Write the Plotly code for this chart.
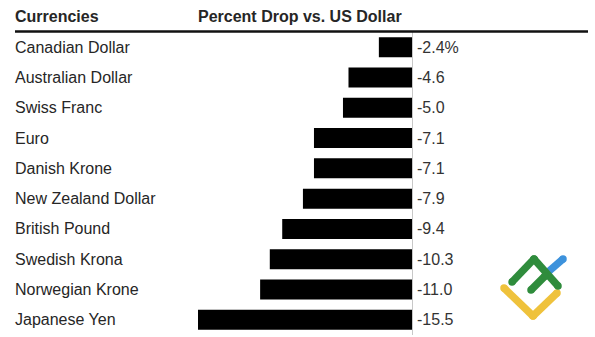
import plotly.graph_objects as go

# Currency depreciation against the US dollar (percent)
currencies = [
    "Canadian Dollar", "Australian Dollar", "Swiss Franc", "Euro", "Danish Krone",
    "New Zealand Dollar", "British Pound", "Swedish Krona", "Norwegian Krone", "Japanese Yen",
]
drops = [-2.4, -4.6, -5.0, -7.1, -7.1, -7.9, -9.4, -10.3, -11.0, -15.5]
value_labels = ["-2.4%", "-4.6", "-5.0", "-7.1", "-7.1", "-7.9", "-9.4", "-10.3", "-11.0", "-15.5"]
headers = ["Currencies", "Percent Drop vs. US Dollar"]

W, H = 595, 337
ML, MR, MT, MB = 15, 0, 32, 2
PW, PH = W - ML - MR, H - MT - MB

# horizontal scale: zero sits at x=412px, -15.5 at x=198px
zero_px, px_per_unit = 412, (412 - 198) / 15.5
x_min = -(zero_px - ML) / px_per_unit
x_max = (W - MR - zero_px) / px_per_unit

FONT = "Liberation Sans, Arial, Helvetica, sans-serif"
TXT = "#262626"
FS = 16

fig = go.Figure()
fig.add_trace(go.Bar(
    x=drops, y=currencies, orientation="h",
    marker=dict(color="#000000", line=dict(width=0)),
    width=0.66, hoverinfo="skip",
))


def px(x, y):
    """Convert page pixels to paper coordinates."""
    return (x - ML) / PW, 1 - (y - MT) / PH


annotations = []
for name in currencies:
    annotations.append(dict(
        x=px(13, 0)[0], xref="paper", y=name, yref="y", text=name, showarrow=False,
        xanchor="left", yanchor="middle", font=dict(family=FONT, size=FS, color=TXT),
    ))
for name, lab in zip(currencies, value_labels):
    annotations.append(dict(
        x=0, xref="x", y=name, yref="y", text=lab, showarrow=False, xshift=3,
        xanchor="left", yanchor="middle", font=dict(family=FONT, size=FS, color="#333333"),
    ))
hx0, hy = px(13, 16)
hx1, _ = px(196, 16)
annotations.append(dict(x=hx0, y=hy, xref="paper", yref="paper", text="<b>%s</b>" % headers[0],
                        showarrow=False, xanchor="left", yanchor="middle",
                        font=dict(family=FONT, size=FS, color=TXT)))
annotations.append(dict(x=hx1, y=hy, xref="paper", yref="paper", text="<b>%s</b>" % headers[1],
                        showarrow=False, xanchor="left", yanchor="middle",
                        font=dict(family=FONT, size=FS, color=TXT)))

shapes = []
lx0, ly = px(15, 31.5)
lx1, _ = px(588, 31.5)
shapes.append(dict(type="line", xref="paper", yref="paper", x0=lx0, x1=lx1, y0=ly, y1=ly,
                   line=dict(color="#111111", width=2.5)))


# small brand mark in the lower right corner
def seg(p, q, color, w=7.5):
    a, b = px(*p)
    c, d = px(*q)
    shapes.append(dict(type="line", xref="paper", yref="paper", x0=a, y0=b, x1=c, y1=d,
                       line=dict(color=color, width=w), layer="above"))
    # rounded ends
    r = w / 2
    for (cx, cy) in (p, q):
        x0, y0 = px(cx - r, cy + r)
        x1, y1 = px(cx + r, cy - r)
        shapes.append(dict(type="circle", xref="paper", yref="paper", x0=x0, y0=y0,
                           x1=x1, y1=y1, fillcolor=color, line=dict(width=0), layer="above"))


yellow, green, blue = "#efc23c", "#2f8c3c", "#3d92dc"
seg((504, 288), (533, 316), yellow)
seg((533, 316), (557, 293), yellow)
seg((548, 272), (563, 259), blue)
seg((512, 282), (534, 259), green)
seg((534, 259), (558, 286), green)
seg((531, 290), (545, 276), green)

fig.update_layout(
    width=W, height=H,
    margin=dict(l=ML, r=MR, t=MT, b=MB, pad=0),
    paper_bgcolor="white", plot_bgcolor="white",
    showlegend=False, bargap=0.34,
    xaxis=dict(range=[x_min, x_max], showgrid=False, showticklabels=False, ticks="",
               zeroline=True, zerolinecolor="#c8c8c8", zerolinewidth=1, fixedrange=True),
    yaxis=dict(categoryorder="array", categoryarray=currencies, autorange="reversed",
               showgrid=False, showticklabels=False, ticks="", zeroline=False,
               range=[len(currencies) - 0.5, -0.5]),
    annotations=annotations, shapes=shapes,
)

fig.write_html("out.html")
